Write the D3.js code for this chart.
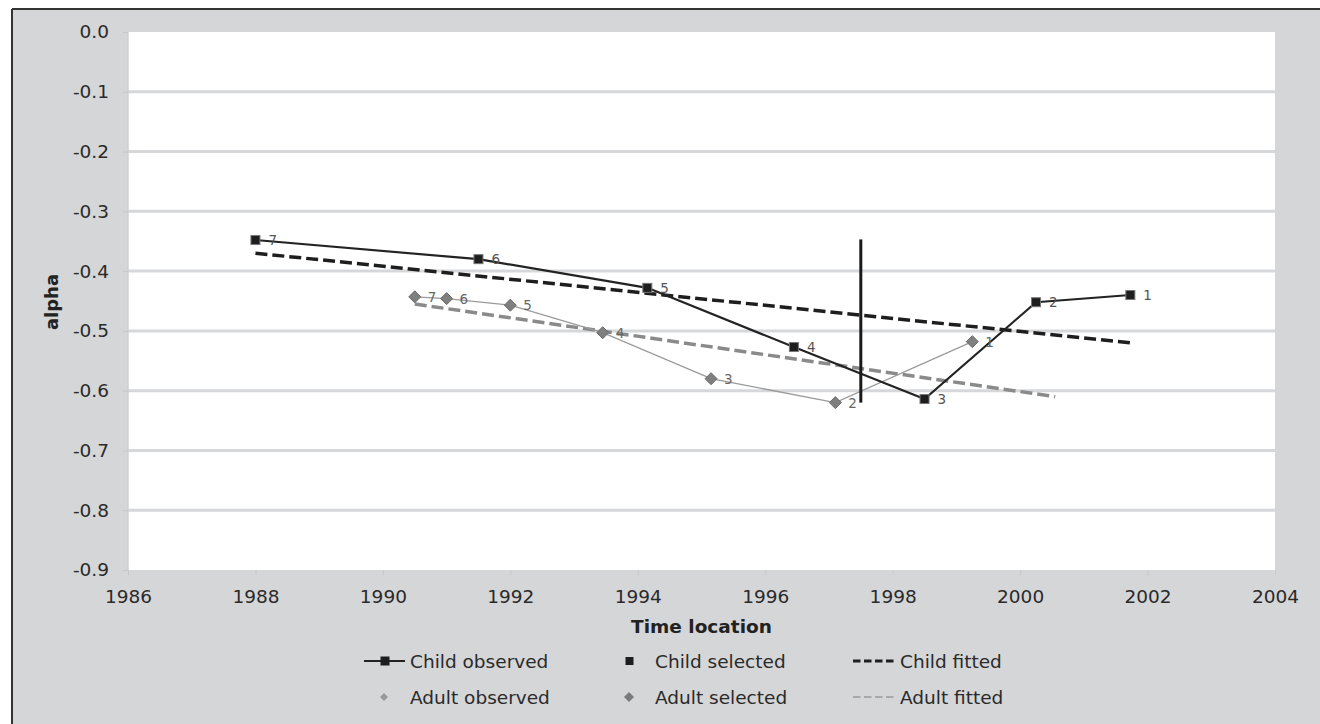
<!DOCTYPE html>
<html>
<head>
<meta charset="utf-8">
<script src="https://cdn.jsdelivr.net/npm/d3@7"></script>
<style>
  html, body { margin: 0; padding: 0; background: #ffffff; }
  svg { display: block; }
  text { font-family: "DejaVu Sans", Verdana, sans-serif; }
</style>
</head>
<body>
<svg id="chart" width="1320" height="724"></svg>
<script>
// ---------- data ----------
const childYears  = [1988.0, 1991.5, 1994.15, 1996.45, 1998.5, 2000.25, 2001.73];
const childAlpha  = [-0.348, -0.380, -0.428, -0.527, -0.614, -0.452, -0.440];
const childLabels = ["7", "6", "5", "4", "3", "2", "1"];

const adultYears  = [1990.5, 1991.0, 1992.0, 1993.45, 1995.15, 1997.1, 1999.25];
const adultAlpha  = [-0.443, -0.446, -0.457, -0.503, -0.580, -0.620, -0.518];
const adultLabels = ["7", "6", "5", "4", "3", "2", "1"];

const childFittedYears = [1988.0, 2001.75];
const childFittedAlpha = [-0.370, -0.520];
const adultFittedYears = [1990.5, 2000.55];
const adultFittedAlpha = [-0.455, -0.610];

const cutoffYear  = [1997.5, 1997.5];
const cutoffAlpha = [-0.347, -0.620];

const xTicks = [1986, 1988, 1990, 1992, 1994, 1996, 1998, 2000, 2002, 2004];
const yTicks = [0.0, -0.1, -0.2, -0.3, -0.4, -0.5, -0.6, -0.7, -0.8, -0.9];

const xTitle = "Time location";
const yTitle = "alpha";
const legendNames = ["Child observed", "Child selected", "Child fitted",
                     "Adult observed", "Adult selected", "Adult fitted"];

// ---------- layout ----------
const svg = d3.select("#chart");
const W = 1320, H = 724;
const plot = { left: 128, right: 1275, top: 32, bottom: 570 };
const bg = "#d5d6d8";

svg.append("rect").attr("x", 12).attr("y", 9).attr("width", W - 12).attr("height", H - 9).attr("fill", bg);
svg.append("line").attr("x1", 12).attr("x2", W).attr("y1", 9).attr("y2", 9).attr("stroke", "#333").attr("stroke-width", 2);
svg.append("line").attr("x1", 12).attr("x2", 12).attr("y1", 9).attr("y2", H).attr("stroke", "#333").attr("stroke-width", 2);

const x = d3.scaleLinear().domain([1986, 2004]).range([plot.left, plot.right]);
const y = d3.scaleLinear().domain([0, -0.9]).range([plot.top, plot.bottom]);

svg.append("rect").attr("x", plot.left).attr("y", plot.top)
  .attr("width", plot.right - plot.left).attr("height", plot.bottom - plot.top).attr("fill", "#ffffff");

// gridlines
svg.append("g").selectAll("line").data(yTicks.slice(1, -1)).join("line")
  .attr("x1", plot.left).attr("x2", plot.right)
  .attr("y1", d => y(d)).attr("y2", d => y(d))
  .attr("stroke", "#d6d7d9").attr("stroke-width", 3);

// left axis line
svg.append("line").attr("x1", plot.left).attr("x2", plot.left).attr("y1", plot.top).attr("y2", plot.bottom)
  .attr("stroke", "#d0d0d0").attr("stroke-width", 1.5);

// axes
const yAxis = d3.axisLeft(y).tickValues(yTicks).tickSize(5).tickPadding(14);
const gy = svg.append("g").attr("transform", `translate(${plot.left},0)`).call(yAxis);
gy.select(".domain").remove();
gy.selectAll(".tick line").attr("stroke", "#c8c8c8");
gy.selectAll(".tick text").attr("font-size", 18.5).attr("fill", "#2a2a2a")
  .attr("font-family", "DejaVu Sans, Verdana, sans-serif")
  .text(d => d === 0 ? "0.0" : "-" + Math.abs(d).toFixed(1));

const xAxis = d3.axisBottom(x).tickValues(xTicks).tickFormat(d3.format("d")).tickSize(5).tickPadding(15);
const gx = svg.append("g").attr("transform", `translate(0,${plot.bottom})`).call(xAxis);
gx.select(".domain").remove();
gx.selectAll(".tick line").attr("stroke", "#c8c8c8");
gx.selectAll(".tick text").attr("font-size", 18.5).attr("fill", "#2a2a2a")
  .attr("font-family", "DejaVu Sans, Verdana, sans-serif");

// axis titles
svg.append("text").attr("x", (plot.left + plot.right) / 2).attr("y", 633)
  .attr("text-anchor", "middle").attr("font-size", 18.5).attr("font-weight", "bold")
  .attr("fill", "#222").text(xTitle);
svg.append("text").attr("transform", "translate(58,302) rotate(-90)")
  .attr("text-anchor", "middle").attr("font-size", 18).attr("font-weight", "bold")
  .attr("fill", "#222").text(yTitle);

// ---------- series ----------
const line = d3.line().x(d => x(d[0])).y(d => y(d[1]));
const childPts = childYears.map((v, i) => [v, childAlpha[i], childLabels[i]]);
const adultPts = adultYears.map((v, i) => [v, adultAlpha[i], adultLabels[i]]);

// adult fitted
svg.append("path").datum(adultFittedYears.map((v, i) => [v, adultFittedAlpha[i]]))
  .attr("d", line).attr("fill", "none").attr("stroke", "#8a8a8a").attr("stroke-width", 3.5)
  .attr("stroke-dasharray", "12,5");
// child fitted
svg.append("path").datum(childFittedYears.map((v, i) => [v, childFittedAlpha[i]]))
  .attr("d", line).attr("fill", "none").attr("stroke", "#1e1e1e").attr("stroke-width", 3.5)
  .attr("stroke-dasharray", "12,5");

// adult observed
svg.append("path").datum(adultPts).attr("d", line).attr("fill", "none")
  .attr("stroke", "#9a9a9a").attr("stroke-width", 1.3);
// child observed
svg.append("path").datum(childPts).attr("d", line).attr("fill", "none")
  .attr("stroke", "#232323").attr("stroke-width", 2.2);

// cutoff vertical line
svg.append("path").datum(cutoffYear.map((v, i) => [v, cutoffAlpha[i]]))
  .attr("d", line).attr("fill", "none").attr("stroke", "#1a1a1a").attr("stroke-width", 3);

// adult markers
const diamond = s => `M0,${-s}L${s},0L0,${s}L${-s},0Z`;
svg.append("g").selectAll("path").data(adultPts).join("path")
  .attr("transform", d => `translate(${x(d[0])},${y(d[1])})`)
  .attr("d", diamond(6)).attr("fill", "#7f7f7f").attr("stroke", "#6a6a6a").attr("stroke-width", 1);
svg.append("g").selectAll("text").data(adultPts).join("text")
  .attr("x", d => x(d[0]) + 13).attr("y", d => y(d[1]) + 5)
  .attr("font-size", 13.5).attr("fill", "#666").text(d => d[2]);

// child markers
svg.append("g").selectAll("rect").data(childPts).join("rect")
  .attr("x", d => x(d[0]) - 4.5).attr("y", d => y(d[1]) - 4.5)
  .attr("width", 9).attr("height", 9)
  .attr("fill", "#1e1e1e").attr("stroke", "#777").attr("stroke-width", 1);
svg.append("g").selectAll("text").data(childPts).join("text")
  .attr("x", d => x(d[0]) + 13).attr("y", d => y(d[1]) + 5)
  .attr("font-size", 13.5).attr("fill", "#555").text(d => d[2]);

// ---------- legend ----------
const row1 = 661, row2 = 697;
const lg = svg.append("g");
const legendText = (tx, ty, t) => lg.append("text").attr("x", tx).attr("y", ty + 6.5)
  .attr("font-size", 18.5).attr("fill", "#2a2a2a").text(t);

// Child observed
lg.append("line").attr("x1", 364).attr("x2", 405).attr("y1", row1).attr("y2", row1)
  .attr("stroke", "#232323").attr("stroke-width", 2);
lg.append("rect").attr("x", 380.5).attr("y", row1 - 4.5).attr("width", 9).attr("height", 9).attr("fill", "#1e1e1e");
legendText(410, row1, legendNames[0]);
// Child selected
lg.append("rect").attr("x", 625.5).attr("y", row1 - 4).attr("width", 8).attr("height", 8).attr("fill", "#1e1e1e");
legendText(655, row1, legendNames[1]);
// Child fitted
lg.append("line").attr("x1", 853).attr("x2", 894).attr("y1", row1).attr("y2", row1)
  .attr("stroke", "#1e1e1e").attr("stroke-width", 3).attr("stroke-dasharray", "7.5,3.5");
legendText(900, row1, legendNames[2]);
// Adult observed
lg.append("path").attr("transform", `translate(384,${row2})`).attr("d", diamond(4)).attr("fill", "#999");
legendText(410, row2, legendNames[3]);
// Adult selected
lg.append("path").attr("transform", `translate(629,${row2})`).attr("d", diamond(5)).attr("fill", "#7a7a7a");
legendText(655, row2, legendNames[4]);
// Adult fitted
lg.append("line").attr("x1", 853).attr("x2", 894).attr("y1", row2).attr("y2", row2)
  .attr("stroke", "#9a9a9a").attr("stroke-width", 1.5).attr("stroke-dasharray", "7.5,3.5");
legendText(900, row2, legendNames[5]);
</script>
</body>
</html>
